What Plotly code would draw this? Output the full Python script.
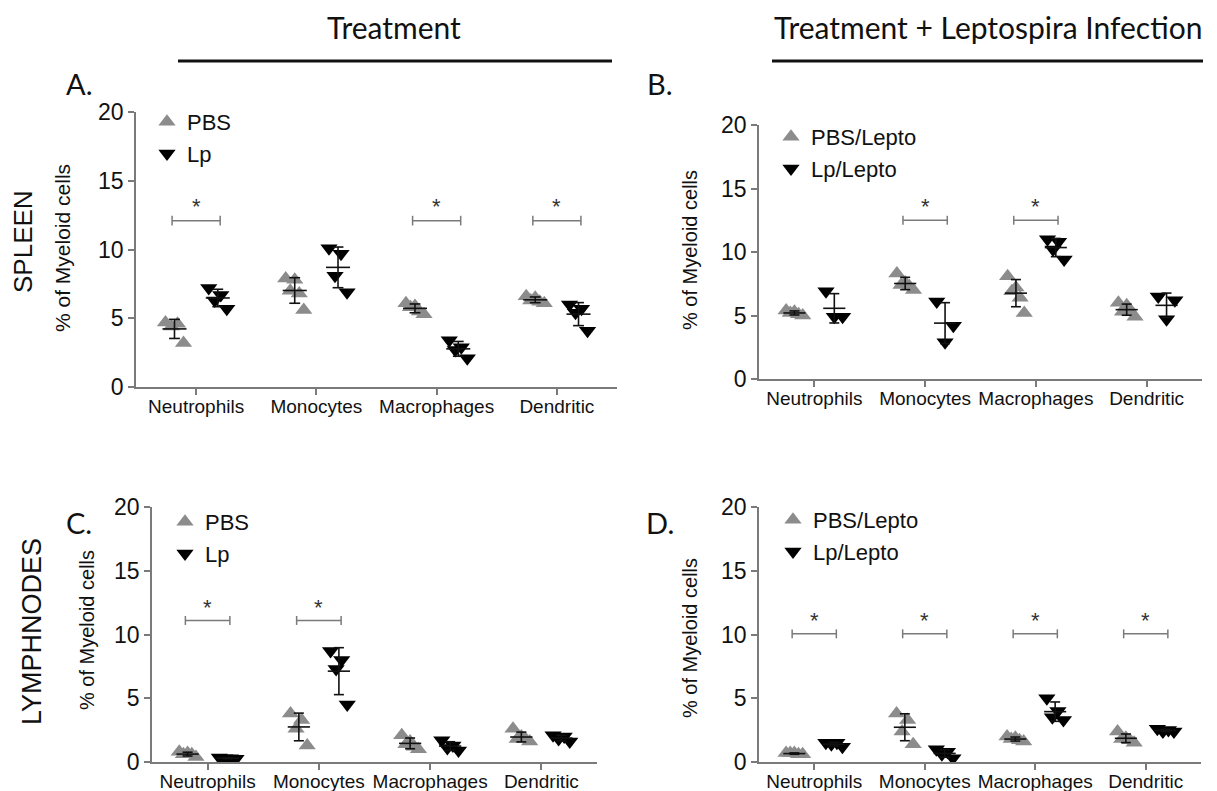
import numpy as np
import plotly.graph_objects as go

W, H = 1217, 791
OFF = 8                      # page body margin of the browser
FW, FH = W - OFF, H - OFF

categories = ["Neutrophils", "Monocytes", "Macrophages", "Dendritic"]
y_ticks = [0, 5, 10, 15, 20]

# ---- data (percent of myeloid cells), one list per cell type ----
A_pbs = [[4.7, 4.6, 4.4, 3.2], [7.9, 7.8, 7.0, 6.8, 5.6], [6.1, 5.9, 5.8, 5.5, 5.3], [6.6, 6.5, 6.3, 6.2, 6.1]]
A_lp = [[7.2, 6.7, 6.3, 5.7], [10.1, 9.7, 8.1, 6.9], [3.4, 2.9, 2.7, 2.1], [6.0, 5.7, 5.4, 4.1]]
A_sig = [0, 2, 3]
A_sig_level = 12.1

B_pbs = [[5.4, 5.3, 5.2, 5.1, 5.0], [8.3, 7.6, 7.4, 7.3, 7.0], [8.1, 7.2, 6.9, 6.4, 5.2], [6.0, 5.8, 5.3, 5.3, 4.9]]
B_lp = [[6.9, 4.9, 4.9], [6.1, 4.2, 2.9], [11.0, 10.8, 10.2, 9.4], [6.5, 6.2, 4.7]]
B_sig = [1, 2]
B_sig_level = 12.5

C_pbs = [[0.8, 0.7, 0.6, 0.6, 0.4], [3.8, 3.3, 2.6, 1.3], [2.1, 1.6, 1.4, 1.2, 1.0], [2.6, 2.0, 1.8, 1.8, 1.6]]
C_lp = [[0.35, 0.3, 0.3, 0.25], [8.7, 8.0, 7.3, 4.5], [1.7, 1.3, 1.1, 0.9], [2.1, 2.0, 1.8, 1.6]]
C_sig = [0, 1]
C_sig_level = 11.1

D_pbs = [[0.7, 0.7, 0.7, 0.6, 0.6], [3.8, 3.3, 2.4, 1.4], [2.0, 1.9, 1.8, 1.7, 1.6], [2.4, 1.9, 1.8, 1.7, 1.5]]
D_lp = [[1.5, 1.5, 1.4, 1.2], [1.0, 0.8, 0.6, 0.3], [5.0, 4.0, 3.5, 3.3], [2.6, 2.5, 2.4, 2.4]]
D_sig = [0, 1, 2, 3]
D_sig_level = 10.05

# ---- styling ----
GRAY = "#8c8c8c"
AXIS = "#7a7a7a"
FONT = "Liberation Sans"
HEAD = "Lato"
GOFF = 0.18       # group offset from category centre
SPREAD = 0.075    # horizontal spread of points inside group
MEAN_HW = 0.10
CAP_HW = 0.045


def PX(x):
    return (x - OFF) / FW


def PY(y):
    return 1 - (y - OFF) / FH


panels = [
    dict(pbs=A_pbs, lp=A_lp, sig=A_sig, lvl=A_sig_level, names=("PBS", "Lp"),
         dom=((136, 617), (112, 387)), legend="legend", leg=(147, 101)),
    dict(pbs=B_pbs, lp=B_lp, sig=B_sig, lvl=B_sig_level, names=("PBS/Lepto", "Lp/Lepto"),
         dom=((759, 1202), (125, 379)), legend="legend2", leg=(771, 116)),
    dict(pbs=C_pbs, lp=C_lp, sig=C_sig, lvl=C_sig_level, names=("PBS", "Lp"),
         dom=((152, 597), (507, 762)), legend="legend3", leg=(165, 501)),
    dict(pbs=D_pbs, lp=D_lp, sig=D_sig, lvl=D_sig_level, names=("PBS/Lepto", "Lp/Lepto"),
         dom=((759, 1201), (507, 762)), legend="legend4", leg=(773, 499)),
]

fig = go.Figure()
shapes = []
annotations = []


def spread_x(center, n):
    if n == 1:
        return [center]
    xx = list(center + np.linspace(-SPREAD, SPREAD, n))
    order = [0, 2, 1, 3, 4][:n] if n <= 5 else list(range(n))
    return [xx[k] for k in order]


for i, p in enumerate(panels):
    ax = "" if i == 0 else str(i + 1)
    xref, yref = "x" + ax, "y" + ax
    for g, (vals, sym, col, sign) in enumerate([(p["pbs"], "triangle-up", GRAY, -1),
                                                 (p["lp"], "triangle-down", "black", 1)]):
        xs, ys = [], []
        lx, ly = [], []
        for c, v in enumerate(vals):
            cx = c + sign * GOFF
            xs += spread_x(cx, len(v))
            ys += list(v)
            m = float(np.mean(v))
            sd = float(np.std(v, ddof=1))
            lx += [cx - MEAN_HW, cx + MEAN_HW, None,
                   cx, cx, None,
                   cx - CAP_HW, cx + CAP_HW, None,
                   cx - CAP_HW, cx + CAP_HW, None]
            ly += [m, m, None,
                   m - sd, m + sd, None,
                   m + sd, m + sd, None,
                   m - sd, m - sd, None]
        fig.add_trace(go.Scatter(
            x=xs, y=ys, mode="markers", name=p["names"][g],
            marker=dict(symbol=sym, size=15, color=col, line=dict(width=0)),
            xaxis=xref, yaxis=yref, legend=p["legend"], showlegend=True,
            legendgroup=p["legend"] + str(g),
        ))
        fig.add_trace(go.Scatter(
            x=lx, y=ly, mode="lines", line=dict(color="#111111", width=1.6),
            xaxis=xref, yaxis=yref, showlegend=False, hoverinfo="skip",
        ))
    # significance brackets
    for c in p["sig"]:
        x0, x1 = c - 0.2, c + 0.2
        lvl = p["lvl"]
        for (a, b, cc, dd) in [(x0, lvl, x1, lvl), (x0, lvl - 0.35, x0, lvl + 0.35),
                               (x1, lvl - 0.35, x1, lvl + 0.35)]:
            shapes.append(dict(type="line", xref=xref, yref=yref, x0=a, y0=b, x1=cc, y1=dd,
                               line=dict(color="#7a7a7a", width=1.5)))
        annotations.append(dict(x=c, y=lvl + 1.05, xref=xref, yref=yref, text="*",
                                showarrow=False, font=dict(family=FONT, size=22, color="#333"),
                                yanchor="middle"))
    (x0p, x1p), (y0p, y1p) = p["dom"]
    xa = dict(domain=[PX(x0p), PX(x1p)], range=[-0.5, 3.5], tickvals=list(range(4)), ticktext=categories,
              showline=True, linecolor=AXIS, linewidth=1.5, ticks="outside", ticklen=6, tickcolor=AXIS,
              tickwidth=1.5, showgrid=False, zeroline=False, anchor=yref, automargin=False,
              tickangle=0, ticklabelstandoff=-5,
              tickfont=dict(family=FONT, size=19, color="#111"))
    ya = dict(domain=[PY(y1p), PY(y0p)], range=[0, 20], tickvals=y_ticks,
              showline=True, linecolor=AXIS, linewidth=1.5, ticks="outside", ticklen=6, tickcolor=AXIS,
              tickwidth=1.5, showgrid=False, zeroline=False, anchor=xref, automargin=False,
              tickfont=dict(family=FONT, size=23, color="#111"))
    fig.update_layout(**{"xaxis" + ax: xa, "yaxis" + ax: ya})
    lxp, lyp = p["leg"]
    fig.update_layout(**{p["legend"]: dict(x=PX(lxp), y=PY(lyp), xanchor="left", yanchor="top",
                                             bgcolor="rgba(0,0,0,0)", tracegroupgap=0,
                                             font=dict(family=FONT, size=22, color="#111"),
                                             traceorder="grouped")})


def pa(x, y, text, size, family=HEAD, angle=0, xanchor="center"):
    annotations.append(dict(x=PX(x), y=PY(y), xref="paper", yref="paper", text=text,
                            showarrow=False, textangle=angle, xanchor=xanchor, yanchor="middle",
                            font=dict(family=family, size=size, color="#111")))


pa(394, 27, "Treatment", 30)
pa(988, 27, "Treatment + Leptospira Infection", 30)
pa(79, 84, "A.", 29)
pa(660, 83, "B.", 29)
pa(79, 522, "C.", 29)
pa(660, 522, "D.", 29)
pa(23, 242, "SPLEEN", 26, family=FONT, angle=-90)
pa(32, 632, "LYMPHNODES", 27, family=FONT, angle=-90)
pa(63, 248, "% of Myeloid cells", 21, family=FONT, angle=-90)
pa(690, 250, "% of Myeloid cells", 20, family=FONT, angle=-90)
pa(87, 630, "% of Myeloid cells", 20, family=FONT, angle=-90)
pa(690, 638, "% of Myeloid cells", 20, family=FONT, angle=-90)

for (x0, x1) in [(178, 612), (772, 1203)]:
    shapes.append(dict(type="line", xref="paper", yref="paper", x0=PX(x0), x1=PX(x1),
                       y0=PY(61), y1=PY(61), line=dict(color="#111", width=3)))

fig.update_layout(width=FW, height=FH, autosize=False,
                  margin=dict(l=0, r=0, t=0, b=0, pad=0, autoexpand=False),
                  plot_bgcolor="white", paper_bgcolor="white",
                  shapes=shapes, annotations=annotations, showlegend=True)

fig.write_html("out.html")
